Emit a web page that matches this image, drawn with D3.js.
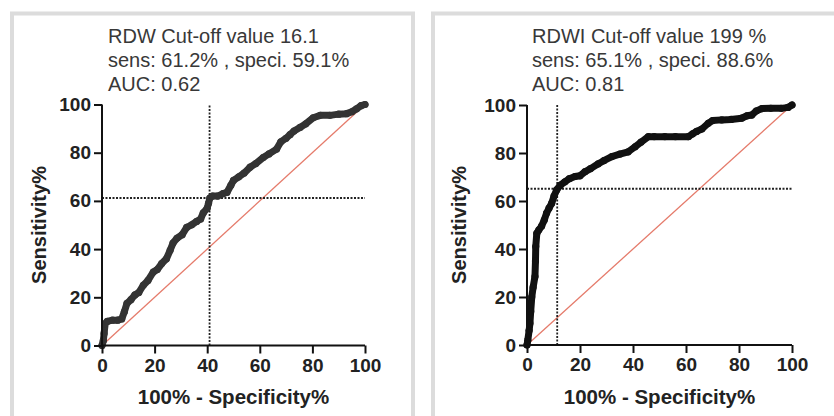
<!DOCTYPE html>
<html>
<head>
<meta charset="utf-8">
<script src="https://cdn.jsdelivr.net/npm/d3@7"></script>
<style>
  html, body { margin: 0; padding: 0; background: #fff; }
  svg { display: block; }
  text { font-family: "Liberation Sans", Arial, sans-serif; }
</style>
</head>
<body>
<svg id="chart" width="834" height="416"></svg>
<script>
// ---------- data ----------
const xTickValues = [0, 20, 40, 60, 80, 100];
const yTickValues = [0, 20, 40, 60, 80, 100];
const xAxisTitle = "100% - Specificity%";
const yAxisTitle = "Sensitivity%";

const rdwTitle = ["RDW Cut-off value 16.1", "sens: 61.2% , speci. 59.1%", "AUC: 0.62"];
const rdwCutoff = [40.9, 61.2]; // [100 - specificity, sensitivity]
const rdwFpr  = [0,0.5,0.8,1.2,2,4,6,7.5,8.5,9.5,11,12.5,14,15.7,17.5,19.5,21,22.7,24.5,25.9,27,28.5,30.5,32.2,34,36,37.5,38.5,40,40.5,41,42,44,46,47.5,49,50,52,54,56.3,58.5,61.3,63.5,66.4,68,70,71.5,73,75.3,77.5,80.3,83,86.7,90,93,95,96.8,98.5,100];
const rdwSens = [0,2,5,9,10,10.5,10.5,11,14,17.5,19,21,22,25,27,30.5,31.5,34,36,39.5,42.5,44.5,46,49,50,51.5,52.5,55,57,59,61.2,62,62,63,63.5,66.5,68.5,70,71.5,74,75.5,78,79.5,81.5,84.5,86,87.5,89,90.5,92,94.5,95.5,95.5,96,96.2,97,98.2,99.5,100];

const rdwiTitle = ["RDWI Cut-off value 199 %", "sens: 65.1% , speci. 88.6%", "AUC: 0.81"];
const rdwiCutoff = [11.4, 65.1];
const rdwiFpr  = [0,0.3,0.8,1.1,1.4,1.8,2.3,3,3.2,3.3,3.7,4.5,5.5,6.5,7.4,8.3,9.3,10.2,11.2,12.5,14.3,16,18.1,20,21.9,24,26.9,29,32,35,38.2,40.8,43,45.8,48,52,56,60.9,62.5,64,66,68.4,70,73.5,77,81,83,84.8,86.5,88.6,92,96,98.5,100];
const rdwiSens = [0,2,6,9,14,20,24,28.5,35,41,46.5,48,49.5,52,55,57,59,62,64.6,66.5,68,69.3,70.2,70.5,72.2,73.5,75.5,76.8,78.5,79.5,80.5,82.6,84.5,86.8,86.8,86.8,86.8,86.8,88,89,90,92.4,93.5,93.8,94,94.5,95.5,95.8,97.5,98.5,98.6,98.6,99,100];

// ---------- drawing ----------
const svg = d3.select("#chart");
svg.append("rect").attr("width", 834).attr("height", 416).attr("fill", "#fff");

const panels = [
  { frame: [12, 13.5, 401, 420], x0: 102, x1: 365, y0: 345.5, y1: 104.5, title: rdwTitle, cut: rdwCutoff, fpr: rdwFpr, sens: rdwSens, curveColor: "#333", titleX: 108, yTitleX: 46 },
  { frame: [433, 13.5, 420, 420], x0: 527, x1: 792, y0: 345, y1: 105, title: rdwiTitle, cut: rdwiCutoff, fpr: rdwiFpr, sens: rdwiSens, curveColor: "#111", titleX: 532, yTitleX: 466 }
];

panels.forEach(p => {
  // frame
  svg.append("rect")
    .attr("x", p.frame[0]).attr("y", p.frame[1])
    .attr("width", p.frame[2]).attr("height", p.frame[3])
    .attr("fill", "none").attr("stroke", "#dcdcdc").attr("stroke-width", 4);

  const x = d3.scaleLinear().domain([0, 100]).range([p.x0, p.x1]);
  const y = d3.scaleLinear().domain([0, 100]).range([p.y0, p.y1]);
  const g = svg.append("g");

  // title lines
  p.title.forEach((t, i) => {
    g.append("text").attr("x", p.titleX).attr("y", 43 + i * 23.8)
      .attr("font-size", 20).attr("fill", "#383838").text(t);
  });

  // diagonal reference
  g.append("line")
    .attr("x1", x(0)).attr("y1", y(0)).attr("x2", x(100)).attr("y2", y(100))
    .attr("stroke", "#e57b6b").attr("stroke-width", 1.3);

  // cut-off dotted lines
  g.append("line")
    .attr("x1", x(p.cut[0])).attr("x2", x(p.cut[0])).attr("y1", y(0)).attr("y2", y(100))
    .attr("stroke", "#222").attr("stroke-width", 1.8).attr("stroke-dasharray", "2,1.5");
  g.append("line")
    .attr("x1", x(0)).attr("x2", x(100)).attr("y1", y(p.cut[1])).attr("y2", y(p.cut[1]))
    .attr("stroke", "#222").attr("stroke-width", 1.8).attr("stroke-dasharray", "2,1.5");

  // ROC curve
  const pts = p.fpr.map((v, i) => [v, p.sens[i]]);
  const line = d3.line().x(d => x(d[0])).y(d => y(d[1]));
  g.append("path").datum(pts)
    .attr("d", line).attr("fill", "none")
    .attr("stroke", p.curveColor).attr("stroke-width", 7)
    .attr("stroke-linejoin", "round").attr("stroke-linecap", "round");
  g.selectAll("circle.pt").data(pts).enter().append("circle")
    .attr("class", "pt")
    .attr("cx", d => x(d[0])).attr("cy", d => y(d[1])).attr("r", 3.6)
    .attr("fill", p.curveColor);

  // axes
  const xAxis = d3.axisBottom(x).tickValues(xTickValues).tickSize(8).tickPadding(5).tickFormat(d3.format("d"));
  const yAxis = d3.axisLeft(y).tickValues(yTickValues).tickSize(8).tickPadding(3).tickFormat(d3.format("d"));
  const gx = g.append("g").attr("transform", `translate(0,${p.y0})`).call(xAxis);
  const gy = g.append("g").attr("transform", `translate(${p.x0},0)`).call(yAxis);
  [gx, gy].forEach(a => {
    a.select(".domain").attr("stroke", "#111").attr("stroke-width", 2)
      .attr("d", a === gx ? `M${p.x0},0H${p.x1}` : `M0,${p.y0}V${p.y1}`);
    a.selectAll(".tick line").attr("stroke", "#111").attr("stroke-width", 2);
    a.selectAll(".tick text").attr("font-size", 19).attr("font-weight", "bold")
      .attr("fill", "#222").attr("font-family", "'Liberation Sans', Arial, sans-serif");
  });

  // axis titles
  g.append("text")
    .attr("x", (p.x0 + p.x1) / 2).attr("y", 404)
    .attr("text-anchor", "middle").attr("font-size", 20.5).attr("font-weight", "bold")
    .attr("fill", "#222").text(xAxisTitle);
  g.append("text")
    .attr("transform", `translate(${p.yTitleX},${(p.y0 + p.y1) / 2}) rotate(-90)`)
    .attr("text-anchor", "middle").attr("font-size", 20).attr("font-weight", "bold")
    .attr("fill", "#222").text(yAxisTitle);
});
</script>
</body>
</html>
